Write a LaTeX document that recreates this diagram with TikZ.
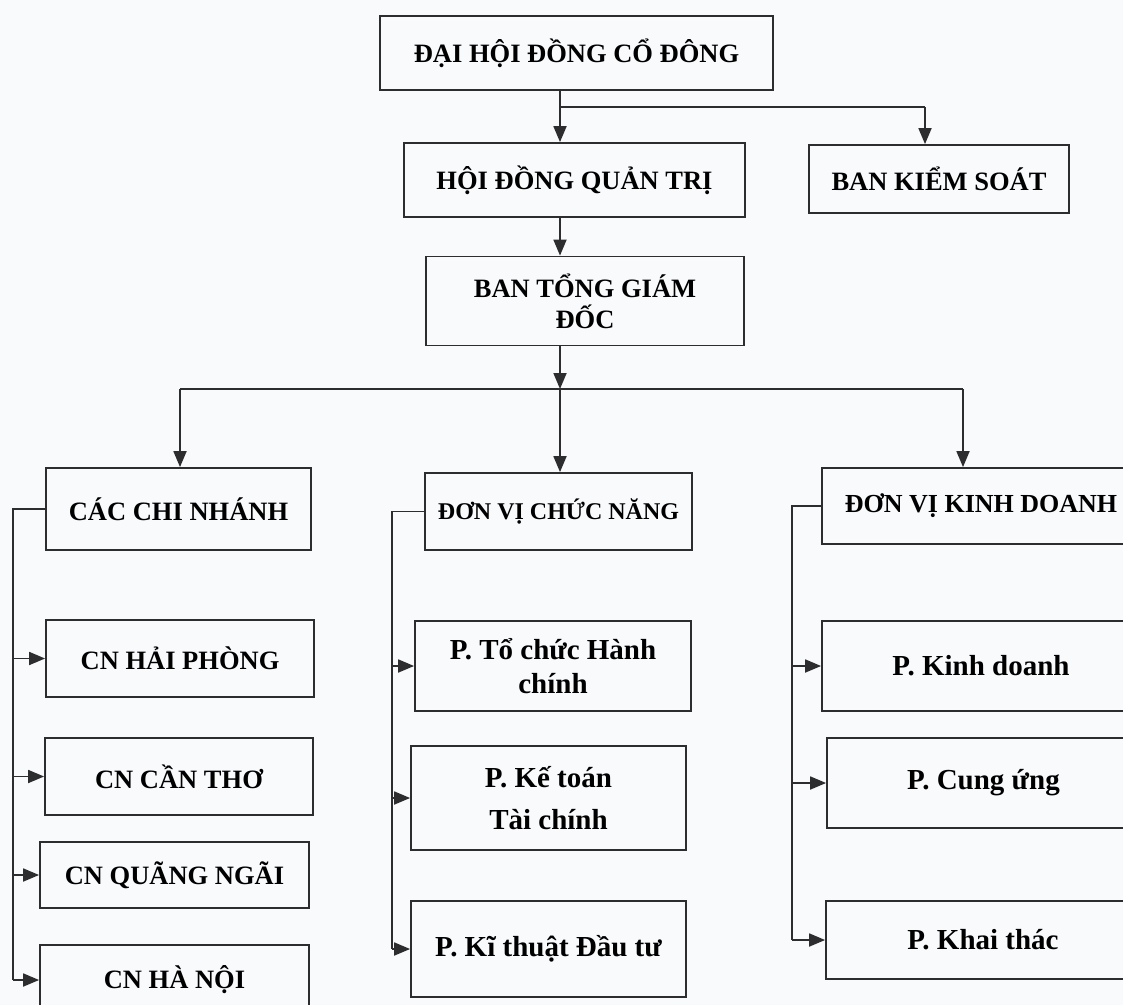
\documentclass[tikz,border=0pt]{standalone}
\usepackage{fontspec}
\setmainfont{Liberation Serif}
\usetikzlibrary{arrows.meta}

\definecolor{ink}{RGB}{45,45,48}
\definecolor{paper}{RGB}{248,250,252}

\begin{document}
\begin{tikzpicture}[x=0.5pt,y=-0.5pt,
    line width=0.9pt, draw=ink,
    >={Triangle[length=8pt,width=6.5pt]},
    box/.style={draw=ink,rectangle,inner sep=0pt,align=center,text=black,
        font=\fontsize{13.25}{15.5}\selectfont\bfseries},
    pbox/.style={box,font=\fontsize{14.5}{17}\selectfont\bfseries}]
    \useasboundingbox (0,0) rectangle (1123,1005);
    \fill[paper] (0,0) rectangle (1123,1005);
    \clip (0,0) rectangle (1123,1005);
    % upper levels
    \node[box,minimum width=196.5pt,minimum height=37pt] at (576.5,53) (dhcd) {ĐẠI HỘI ĐỒNG CỔ ĐÔNG};
    \node[box,minimum width=170.5pt,minimum height=37pt] at (574.5,180) (hdqt) {HỘI ĐỒNG QUẢN TRỊ};
    \node[box,minimum width=130pt,minimum height=34pt] at (939,179) (bks) {BAN KIỂM SOÁT};
    \node[box,minimum width=159pt,minimum height=44.5pt] at (585,301) (btgd) {BAN TỔNG GIÁM\\ĐỐC};
    % three branches
    \node[box,minimum width=132.5pt,minimum height=41pt] at (178.5,509) (ccn) {CÁC CHI NHÁNH};
    \node[box,font=\fontsize{12}{14}\selectfont\bfseries,minimum width=133.5pt,minimum height=38.5pt] at (558.5,511.5) (dvcn) {ĐƠN VỊ CHỨC NĂNG};
    \node[box,font=\fontsize{13}{15}\selectfont\bfseries,minimum width=159pt,minimum height=38pt] at (981,506) (dvkd) {ĐƠN VỊ KINH DOANH};
    % chi nhanh
    \node[box,minimum width=134pt,minimum height=38.5pt] at (180,658.5) (cn1) {CN HẢI PHÒNG};
    \node[box,minimum width=134pt,minimum height=38.5pt] at (179,776.5) (cn2) {CN CẦN THƠ};
    \node[box,minimum width=134.5pt,minimum height=33pt] at (174.5,875) (cn3) {CN QUÃNG NGÃI};
    \node[box,minimum width=134.5pt,minimum height=35pt] at (174.5,980) (cn4) {CN HÀ NỘI};
    % chuc nang
    \node[pbox,minimum width=138pt,minimum height=45pt] at (553,666) (pb1) {P. Tổ chức Hành\\chính};
    \node[pbox,minimum width=137.5pt,minimum height=52pt] at (548.5,798) (pb2) {P. Kế toán\\[4pt]Tài chính};
    \node[pbox,minimum width=137.5pt,minimum height=48pt] at (548.5,949) (pb3) {P. Kĩ thuật Đầu tư};
    % kinh doanh
    \node[pbox,minimum width=159pt,minimum height=45pt] at (981,666) (kd1) {P. Kinh doanh};
    \node[pbox,minimum width=156.5pt,minimum height=45pt] at (983.5,783) (kd2) {P. Cung ứng};
    \node[pbox,minimum width=157pt,minimum height=39pt] at (983,940) (kd3) {P. Khai thác};
    % connectors
    \coordinate (s1) at (560,107);
    \coordinate (s2) at (925,107);
    \coordinate (b0) at (560,389);
    \coordinate (b1) at (180,389);
    \coordinate (b3) at (963,389);
    \coordinate (lb) at (13,0);
    \coordinate (mb) at (392,0);
    \coordinate (rb) at (792,0);
    \draw[->] (s1 |- dhcd.south) -- (s1 |- hdqt.north);
    \draw (s1) -- (s2);
    \draw[->] (s2) -- (s2 |- bks.north);
    \draw[->] (s1 |- hdqt.south) -- (s1 |- btgd.north);
    \draw[->] (s1 |- btgd.south) -- (b0);
    \draw (b1) -- (b3);
    \draw[->] (b1) -- (b1 |- ccn.north);
    \draw[->] (b0) -- (b0 |- dvcn.north);
    \draw[->] (b3) -- (b3 |- dvkd.north);
    \draw (ccn.west) -- (lb |- ccn.west) -- (lb |- cn4.west);
    \draw (dvcn.west) -- (mb |- dvcn.west) -- (mb |- pb3.west);
    \draw (dvkd.west) -- (rb |- dvkd.west) -- (rb |- kd3.west);
    \foreach \n in {cn1,cn2,cn3,cn4}
        \draw[->] (lb |- \n.west) -- (\n.west);
    \foreach \n in {pb1,pb2,pb3}
        \draw[->] (mb |- \n.west) -- (\n.west);
    \foreach \n in {kd1,kd2,kd3}
        \draw[->] (rb |- \n.west) -- (\n.west);
\end{tikzpicture}
\end{document}
